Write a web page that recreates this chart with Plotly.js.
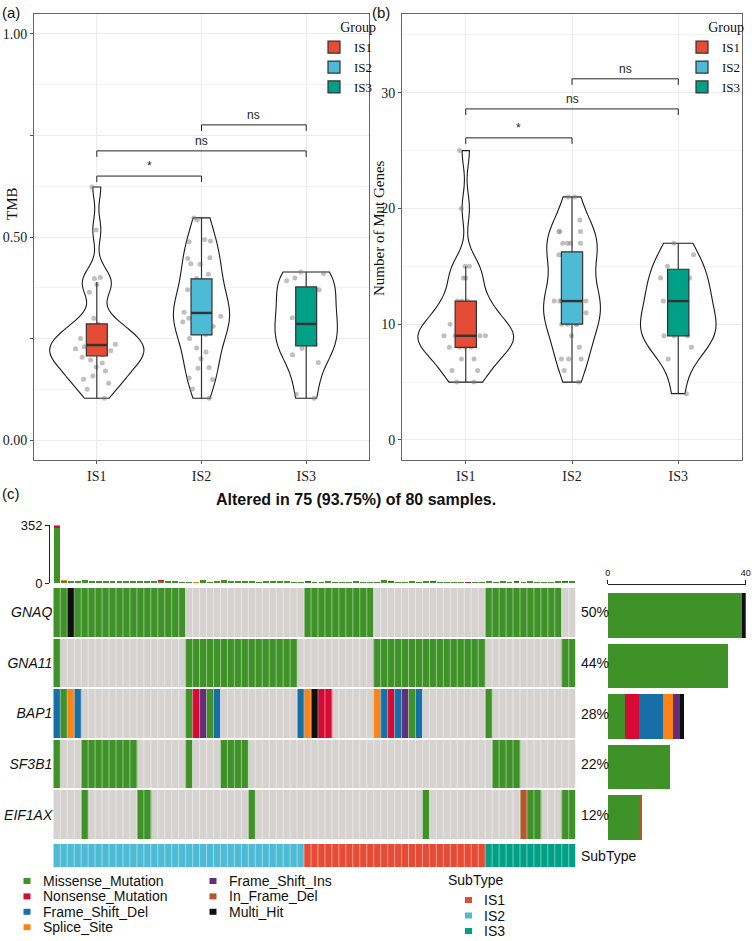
<!DOCTYPE html>
<html><head><meta charset="utf-8">
<script src="https://cdn.plot.ly/plotly-3.0.1.min.js"></script>
<style>html,body{margin:0;padding:0;background:#fff}#chart{width:752px;height:941px}</style>
</head><body><div id="chart"></div>
<script>
// ---------------- DATA ----------------
const groups = ['IS1', 'IS2', 'IS3'];
const groupColors = ['#E64B35', '#4DBBD5', '#00A087'];

// panel (a) TMB per sample
const tmbIS1 = [0.623, 0.517, 0.400, 0.398, 0.383, 0.364, 0.300, 0.285, 0.276, 0.266, 0.258, 0.250, 0.242, 0.236, 0.230, 0.225, 0.220, 0.215, 0.210, 0.204, 0.197, 0.190, 0.180, 0.170, 0.158, 0.150, 0.140, 0.125, 0.103];
const tmbIS2 = [0.547, 0.542, 0.494, 0.490, 0.488, 0.449, 0.447, 0.434, 0.433, 0.408, 0.398, 0.388, 0.370, 0.360, 0.340, 0.330, 0.318, 0.316, 0.315, 0.310, 0.305, 0.300, 0.291, 0.280, 0.270, 0.260, 0.250, 0.227, 0.217, 0.200, 0.179, 0.177, 0.153, 0.149, 0.126, 0.103];
const tmbIS3 = [0.414, 0.410, 0.399, 0.392, 0.370, 0.350, 0.318, 0.301, 0.290, 0.280, 0.254, 0.236, 0.226, 0.210, 0.191, 0.113, 0.103];
const tmbQ1 = [0.207, 0.259, 0.232];
const tmbMedian = [0.234, 0.313, 0.286];
const tmbQ3 = [0.286, 0.397, 0.377];
const tmbLow = [0.103, 0.103, 0.103];
const tmbHigh = [0.389, 0.547, 0.414];
const tmbTickVals = [0, 0.25, 0.5, 0.75, 1];
const tmbTickText = ['0.00', '', '0.50', '', '1.00'];
const tmbBracketPairs = [[0, 1], [0, 2], [1, 2]];
const tmbBracketY = [0.650, 0.712, 0.776];
const tmbBracketLabels = ['*', 'ns', 'ns'];

// panel (b) number of mutated genes per sample
const mutIS1 = [25, 20, 15, 15, 14, 14, 12, 12, 12, 11, 11, 10, 10, 10, 9, 9, 9, 9, 9, 9, 8, 8, 8, 8, 7, 7, 6, 6, 5, 5];
const mutIS2 = [21, 21, 19, 18, 18, 18, 17, 17, 17, 17, 16, 16, 16, 15, 14, 13, 13, 12, 12, 12, 12, 12, 11, 11, 10, 10, 10, 10, 9, 8, 7, 7, 7, 6, 5];
const mutIS3 = [17, 16, 15, 14, 14, 13, 12, 12, 11, 10, 10, 9, 9, 9, 8, 7, 4];
const mutQ1 = [8, 10, 9];
const mutMedian = [9, 12, 12];
const mutQ3 = [12, 16.25, 14.75];
const mutLow = [5, 5, 4];
const mutHigh = [15, 21, 17];
const mutTickVals = [0, 10, 20, 30];
const mutBracketPairs = [[0, 1], [0, 2], [1, 2]];
const mutBracketY = [26.1, 28.6, 31.2];
const mutBracketLabels = ['*', 'ns', 'ns'];

// panel (c) oncoplot
const totalSamples = 80;
const genes = ['GNAQ', 'GNA11', 'BAP1', 'SF3B1', 'EIF1AX'];
// one character per sample column (groups of 5):  . = none
const geneRows = [
  'MMXMM MMMMM MMMMM MMMM. ..... ..... ..... .MMMM MMMMM M.... ..... ..... ..MMM MMMMM MMM..',
  'M.... ..... ..... ....M MMMMM MMMMM MMMMM ..... ..... .MMMM MMMMM MMMMM MM... ..... ...MM',
  'DMSD. ..... ..... ....M NIMD. ..... ..... DSXNN ..... .SDND IMD.. ..... ..M.. ..... .....',
  'M...M MMMMM MM... ....M ....M MMM.. ..... ..... ..... ..... ..... ..... ...MM MM... .....',
  '....M ..... ..MM. ..... ..... ...M. ..... ..... ..... ..... ...M. ..... ..... ..FMM ...MM'
];
const subtypeRow = '22222 22222 22222 22222 22222 22222 22222 21111 11111 11111 11111 11111 11333 33333 33333';
const vcCodes = ['M', 'N', 'D', 'S', 'I', 'F', 'X'];
const vcNames = ['Missense_Mutation', 'Nonsense_Mutation', 'Frame_Shift_Del', 'Splice_Site', 'Frame_Shift_Ins', 'In_Frame_Del', 'Multi_Hit'];
const vcColors = ['#3F9228', '#D60A32', '#176FA8', '#FF8214', '#642E7E', '#B4592A', '#0E0E0E'];
const noMutColor = '#D6D2CF';
// per-sample mutation burden (top bar)
const tmbMissense = [334, 13, 11, 14, 20, 10, 10, 10, 10, 14, 11, 14, 10, 10, 12, 13, 11, 14, 4, 4,
  2, 20, 4, 12, 16, 10, 10, 10, 10, 8, 10, 12, 11, 12, 8, 6, 9, 4, 8, 10,
  6, 6, 4, 10, 8, 8, 4, 18, 7, 6, 8, 12, 6, 10, 7, 8, 6, 8, 8, 2,
  6, 8, 10, 8, 12, 6, 9, 8, 11, 6, 4, 6, 11, 9, 10];
const tmbNonsense = [12, 0, 0, 0, 0, 0, 0, 0, 0, 0, 3, 0, 0, 0, 0, 3, 3, 0, 0, 0,
  0, 0, 0, 0, 0, 0, 0, 0, 0, 0, 0, 0, 3, 0, 0, 0, 3, 2, 0, 0,
  0, 0, 0, 0, 0, 0, 0, 0, 3, 2, 0, 0, 0, 0, 3, 0, 0, 0, 0, 2,
  0, 0, 0, 0, 0, 0, 3, 0, 3, 0, 0, 0, 3, 3, 0];
const tmbSplice = [6, 3, 3, 0, 0, 0, 0, 0, 0, 0, 0, 0, 0, 0, 0, 0, 0, 0, 0, 0,
  2, 0, 0, 0, 0, 0, 0, 0, 0, 0, 0, 0, 0, 0, 0, 0, 0, 0, 0, 0,
  0, 0, 0, 0, 0, 0, 0, 0, 0, 0, 0, 0, 0, 0, 0, 0, 0, 0, 0, 0,
  0, 0, 0, 0, 0, 0, 0, 0, 0, 0, 0, 0, 0, 0, 0];
const tmbAxisTicks = [0, 352];
const geneBarTicks = [0, 40];

// ---------------- HELPERS ----------------
const W = 752, H = 941;
const px = v => v / W;
const py = v => 1 - v / H;
const SERIF = 'Liberation Serif, Times New Roman, serif';
const SANS = 'Liberation Sans, Arial, sans-serif';
const NARROW = 'Liberation Sans Narrow, Liberation Sans, Arial, sans-serif';

function quantile(sorted, p) {
  const h = (sorted.length - 1) * p, lo = Math.floor(h), hi = Math.ceil(h);
  return sorted[lo] + (sorted[hi] - sorted[lo]) * (h - lo);
}
function nrd0(v) {
  const n = v.length, m = v.reduce((a, b) => a + b, 0) / n;
  const sd = Math.sqrt(v.reduce((a, b) => a + (b - m) * (b - m), 0) / (n - 1));
  const s = v.slice().sort((a, b) => a - b);
  const iqr = quantile(s, 0.75) - quantile(s, 0.25);
  let lo = Math.min(sd, iqr / 1.34);
  if (!lo) lo = sd || 1;
  return 0.9 * lo * Math.pow(n, -0.2);
}
function peakDensity(v, bw) {
  const mn = Math.min(...v), mx = Math.max(...v);
  const steps = Math.max(1, Math.ceil((mx - mn) / (bw / 3)));
  let best = 0;
  for (let k = 0; k <= steps; k++) {
    const t = mn + (mx - mn) * k / steps;
    let s = 0;
    v.forEach(x => { const u = (t - x) / bw; s += Math.exp(-0.5 * u * u); });
    best = Math.max(best, s / (Math.sqrt(2 * Math.PI) * v.length * bw));
  }
  return best;
}
function roundHalfEven(x) {
  const f = Math.floor(x), d = x - f;
  if (Math.abs(d - 0.5) < 1e-9) return (f % 2 === 0) ? f : f + 1;
  return Math.round(x);
}
const clean = s => s.replace(/ /g, '').split('');

const traces = [];
const shapes = [];
const annotations = [];
function paperText(text, x, y, font, extra) {
  annotations.push(Object.assign({xref: 'paper', yref: 'paper', x: px(x), y: py(y), text: text,
    showarrow: false, xanchor: 'left', yanchor: 'middle', font: font}, extra || {}));
}

// ---------------- PANELS (a) & (b) ----------------
function buildPanel(xa, ya, tag, legendId, dataSets, q1, med, q3, lo, hi, pairs, bY, bLab, drop) {
  const bws = dataSets.map(nrd0);
  const peaks = dataSets.map((v, i) => peakDensity(v, bws[i]));
  const maxPeak = Math.max(...peaks);
  dataSets.forEach((vals, i) => {
    traces.push({
      type: 'violin', xaxis: xa, yaxis: ya, x0: groups[i], y: vals, name: groups[i],
      width: 0.9 * peaks[i] / maxPeak, scalegroup: tag + i, scalemode: 'width', spanmode: 'hard',
      bandwidth: bws[i], points: false, box: {visible: false}, meanline: {visible: false},
      line: {color: '#1a1a1a', width: 1.1}, fillcolor: '#ffffff',
      showlegend: false, hoverinfo: 'skip'
    });
  });
  dataSets.forEach((vals, i) => {
    traces.push({
      type: 'box', xaxis: xa, yaxis: ya, x0: groups[i], y: vals, name: groups[i],
      boxpoints: 'all', jitter: 1, pointpos: 0, width: 0.42,
      fillcolor: 'rgba(0,0,0,0)', line: {width: 0, color: 'rgba(0,0,0,0)'},
      marker: {color: 'rgba(135,125,125,0.5)', size: 5},
      showlegend: false, hoverinfo: 'skip'
    });
  });
  groups.forEach((g, i) => {
    traces.push({
      type: 'box', xaxis: xa, yaxis: ya, x: [g], q1: [q1[i]], median: [med[i]], q3: [q3[i]],
      lowerfence: [lo[i]], upperfence: [hi[i]], name: g, width: 0.2, whiskerwidth: 0,
      boxpoints: false, fillcolor: groupColors[i], line: {color: '#333333', width: 1.2},
      legend: legendId, showlegend: true, hoverinfo: 'skip'
    });
    shapes.push({type: 'line', xref: xa, yref: ya, x0: i - 0.1, x1: i + 0.1, y0: med[i], y1: med[i],
      line: {color: '#333333', width: 2.4}});
  });
  pairs.forEach((p, k) => {
    const ln = {color: '#222', width: 1};
    shapes.push({type: 'line', xref: xa, yref: ya, x0: p[0], x1: p[1], y0: bY[k], y1: bY[k], line: ln});
    shapes.push({type: 'line', xref: xa, yref: ya, x0: p[0], x1: p[0], y0: bY[k], y1: bY[k] - drop, line: ln});
    shapes.push({type: 'line', xref: xa, yref: ya, x0: p[1], x1: p[1], y0: bY[k], y1: bY[k] - drop, line: ln});
    annotations.push({xref: xa, yref: ya, x: (p[0] + p[1]) / 2, y: bY[k], text: bLab[k], showarrow: false,
      xanchor: 'center', yanchor: 'bottom', yshift: 1, font: {family: NARROW, size: 12, color: '#222'}});
  });
}
buildPanel('x', 'y', 'a', 'legend', [tmbIS1, tmbIS2, tmbIS3], tmbQ1, tmbMedian, tmbQ3, tmbLow, tmbHigh,
  tmbBracketPairs, tmbBracketY, tmbBracketLabels, 0.0148);
buildPanel('x2', 'y2', 'b', 'legend2', [mutIS1, mutIS2, mutIS3], mutQ1, mutMedian, mutQ3, mutLow, mutHigh,
  mutBracketPairs, mutBracketY, mutBracketLabels, 0.52);

// ---------------- PANEL (c) ----------------
const rows = geneRows.map(clean);
const nCols = rows[0].length;
const zMain = rows.map(r => r.map(c => c === '.' ? 0 : vcCodes.indexOf(c) + 1));
const allColors = [noMutColor].concat(vcColors);
const nC = allColors.length;
const csMain = [];
allColors.forEach((c, i) => { csMain.push([i / nC, c]); csMain.push([(i + 1) / nC, c]); });
traces.push({
  type: 'heatmap', xaxis: 'x3', yaxis: 'y3', z: zMain, x0: 0, dx: 1, y: genes,
  zmin: -0.5, zmax: nC - 0.5, colorscale: csMain, showscale: false, ygap: 2, xgap: 0, hoverinfo: 'skip'
});
const sub = clean(subtypeRow).map(Number);
const csSub = [];
groupColors.forEach((c, i) => { csSub.push([i / 3, c]); csSub.push([(i + 1) / 3, c]); });
traces.push({
  type: 'heatmap', xaxis: 'x4', yaxis: 'y4', z: [sub], x0: 0, dx: 1, y0: 0,
  zmin: 0.5, zmax: 3.5, colorscale: csSub, showscale: false, hoverinfo: 'skip'
});
// top sample burden bars
[[tmbMissense, vcColors[0]], [tmbNonsense, vcColors[1]], [tmbSplice, vcColors[3]]].forEach(([v, c]) => {
  traces.push({type: 'bar', xaxis: 'x5', yaxis: 'y5', x0: 0, dx: 1, y: v, width: 0.85,
    marker: {color: c, line: {width: 0}}, showlegend: false, hoverinfo: 'skip'});
});
// right gene bars
vcCodes.forEach((code, k) => {
  const counts = rows.map(r => r.filter(c => c === code).length);
  traces.push({type: 'bar', orientation: 'h', xaxis: 'x6', yaxis: 'y6', y: genes, x: counts,
    width: 0.88, offset: -0.38, marker: {color: vcColors[k], line: {width: 0}},
    showlegend: false, hoverinfo: 'skip'});
});
// percentages
rows.forEach((r, i) => {
  const n = r.filter(c => c !== '.').length;
  annotations.push({xref: 'paper', yref: 'y3', x: px(579), y: genes[i], xanchor: 'left', yanchor: 'middle',
    showarrow: false, text: roundHalfEven(100 * n / totalSamples) + '%', font: {family: SANS, size: 14, color: '#111'}});
});
paperText('SubType', 579, 856, {family: SANS, size: 14, color: '#111'});
// column separators
const y3d = [py(840), py(587)], y4d = [py(867), py(844)];
for (let i = 0; i < nCols - 1; i++) {
  [[y3d, 'x3'], [y4d, 'x4']].forEach(([d, xr]) => {
    shapes.push({type: 'line', xref: xr, yref: 'paper', x0: i + 0.5, x1: i + 0.5, y0: d[0], y1: d[1],
      line: {color: 'rgba(255,255,255,0.45)', width: 1}});
  });
}
// title
let altered = 0;
for (let j = 0; j < nCols; j++) if (rows.some(r => r[j] !== '.')) altered++;
paperText('<b>Altered in ' + altered + ' (' + (100 * altered / totalSamples).toFixed(2) + '%) of ' + totalSamples + ' samples.</b>',
  356, 499, {family: SANS, size: 16, color: '#111'}, {xanchor: 'center'});
// bottom legend: variant classes (column-major, 4 rows)
vcNames.forEach((nm, i) => {
  const col = Math.floor(i / 4), row = i % 4;
  const cx = col === 0 ? 27 : 213, cy = 881 + row * 15.4;
  shapes.push({type: 'rect', xref: 'paper', yref: 'paper', x0: px(cx - 3.5), x1: px(cx + 3.5),
    y0: py(cy + 3), y1: py(cy - 3), fillcolor: vcColors[i], line: {width: 0}});
  paperText(nm, cx + 14, cy, {family: SANS, size: 14, color: '#111'});
});
paperText('SubType', 446, 880, {family: SANS, size: 14, color: '#111'});
groups.forEach((g, i) => {
  const cy = 900 + i * 15.5;
  shapes.push({type: 'rect', xref: 'paper', yref: 'paper', x0: px(465), x1: px(472),
    y0: py(cy + 3), y1: py(cy - 3), fillcolor: groupColors[i], line: {width: 0}});
  paperText(g, 482, cy, {family: SANS, size: 14, color: '#111'});
});

// panel labels and axis titles
[['(a)', 0, 12], ['(b)', 370, 12], ['(c)', 0, 494]].forEach(([t, x, y]) => {
  paperText(t, x, y, {family: SANS, size: 15, color: '#111'});
});
paperText('TMB', 12, 203, {family: SERIF, size: 15, color: '#111'}, {xanchor: 'center', textangle: -90});
paperText('Number of Mut Genes', 379, 228, {family: SERIF, size: 15, color: '#111'}, {xanchor: 'center', textangle: -90});

// ---------------- LAYOUT ----------------
const catAxis = (dom, anchor) => ({
  domain: dom, anchor: anchor, type: 'category', categoryorder: 'array', categoryarray: groups,
  range: [-0.6, 2.6], showgrid: true, gridcolor: '#EBEBEB', showline: true, mirror: true,
  linecolor: '#666', linewidth: 1, ticks: 'outside', ticklen: 3, tickcolor: '#555',
  tickfont: {family: SERIF, size: 14, color: '#222'}, zeroline: false
});
const valAxis = (dom, anchor, range, tv, tt, minorStep) => ({
  domain: dom, anchor: anchor, range: range, tickvals: tv, ticktext: tt,
  showgrid: true, gridcolor: '#EBEBEB', showline: true, mirror: true, linecolor: '#666', linewidth: 1,
  ticks: 'outside', ticklen: 3, tickcolor: '#555', zeroline: false,
  minor: {dtick: minorStep, showgrid: true, gridcolor: '#F3F3F3'},
  tickfont: {family: SERIF, size: 14, color: '#222'}
});
const legendStyle = (x) => ({
  x: x, xanchor: 'right', y: py(14), yanchor: 'top', bgcolor: 'rgba(0,0,0,0)', traceorder: 'normal',
  title: {text: 'Group', side: 'top right', font: {family: SERIF, size: 14, color: '#111'}},
  font: {family: SERIF, size: 13, color: '#111'}
});
const layout = {
  width: W, height: H, margin: {l: 0, r: 0, t: 0, b: 0, autoexpand: false}, paper_bgcolor: '#fff', plot_bgcolor: '#fff',
  showlegend: true, hovermode: false, boxmode: 'overlay', violinmode: 'overlay', barmode: 'stack',
  violingap: 0, violingroupgap: 0, boxgap: 0, boxgroupgap: 0,
  xaxis: catAxis([px(34), px(369)], 'y'),
  yaxis: valAxis([py(460), py(14)], 'x', [-0.049, 1.049], tmbTickVals, tmbTickText, 0.125),
  xaxis2: catAxis([px(402), px(742)], 'y2'),
  yaxis2: valAxis([py(460), py(14)], 'x2', [-1.73, 36.8], mutTickVals, mutTickVals.map(String), 5),
  xaxis3: {domain: [px(53.3), px(575.7)], anchor: 'y3', range: [-0.5, nCols - 0.5], visible: false},
  yaxis3: {domain: y3d, anchor: 'x3', type: 'category', categoryorder: 'array', categoryarray: genes,
    range: [genes.length - 0.5, -0.5], tickvals: genes, ticktext: genes.map(g => '<i>' + g + '</i>'),
    ticks: '', showgrid: false, showline: false, zeroline: false,
    tickfont: {family: NARROW, size: 14, color: '#111'}},
  xaxis4: {domain: [px(53.3), px(575.7)], anchor: 'y4', range: [-0.5, nCols - 0.5], visible: false},
  yaxis4: {domain: y4d, anchor: 'x4', range: [-0.5, 0.5], visible: false},
  xaxis5: {domain: [px(50), px(575.7)], anchor: 'y5', range: [-0.5 - 3.3 / 6.965, nCols - 0.5], visible: false},
  yaxis5: {domain: [py(583), py(525)], anchor: 'x5', range: [0, 352], tickvals: tmbAxisTicks,
    ticks: 'outside', ticklen: 4, tickcolor: '#222', showline: true, linecolor: '#222', linewidth: 1,
    showgrid: false, zeroline: false, tickfont: {family: SANS, size: 13, color: '#111'}},
  xaxis6: {domain: [px(607.7), px(745.7)], anchor: 'free', position: py(584), side: 'top', range: [0, 40],
    tickvals: geneBarTicks, ticks: 'outside', ticklen: 4, tickcolor: '#222', showline: true,
    linecolor: '#222', linewidth: 1, showgrid: false, zeroline: false,
    tickfont: {family: SANS, size: 9, color: '#111'}},
  yaxis6: {domain: y3d, anchor: 'x6', type: 'category', categoryorder: 'array', categoryarray: genes,
    range: [genes.length - 0.5, -0.5], visible: false},
  legend: legendStyle(px(378)),
  legend2: legendStyle(px(746)),
  shapes: shapes,
  annotations: annotations
};
Plotly.newPlot('chart', traces, layout, {displayModeBar: false, staticPlot: true});
</script>
</body></html>
